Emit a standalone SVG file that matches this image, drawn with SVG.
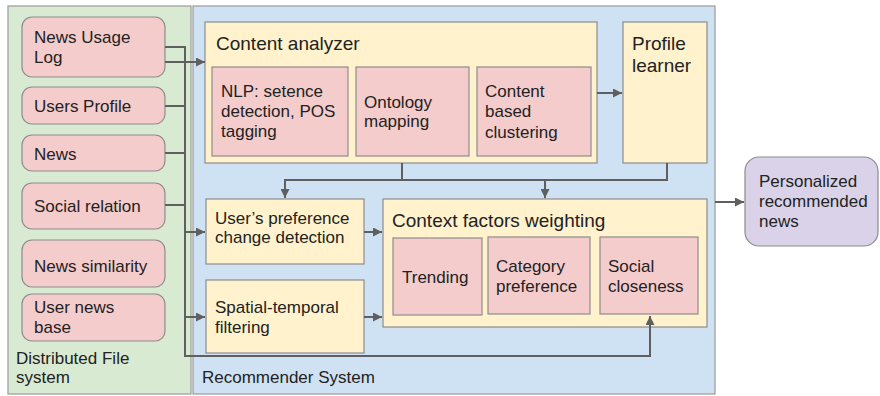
<svg xmlns="http://www.w3.org/2000/svg" width="880" height="396" viewBox="0 0 880 396">
<defs>
<style>
text{font-family:"Liberation Sans",Arial,sans-serif;fill:#222;font-size:17px}
.t{font-size:19px}
.panelG{fill:#d9ead3;stroke:#9a9a9a;stroke-width:1.2}
.panelB{fill:#cfe2f3;stroke:#9a9a9a;stroke-width:1.2}
.y{fill:#fff2cc;stroke:#8c8c8c;stroke-width:1.2}
.p{fill:#f4cccc;stroke:#8c8c8c;stroke-width:1.2}
.v{fill:#d9d2e9;stroke:#8c8c8c;stroke-width:1.2}
.c{fill:none;stroke:#5f5f5f;stroke-width:2}
</style>
<marker id="ah" viewBox="0 0 10 10" refX="10" refY="5" markerUnits="userSpaceOnUse" markerWidth="9" markerHeight="9" orient="auto">
<path d="M0,0 L10,5 L0,10 z" fill="#5f5f5f"/>
</marker>
</defs>

<g id="distributed-file-system">
<rect class="panelG" x="8" y="6" width="183" height="388"/>
<text x="16" y="364">Distributed File</text>
<text x="16" y="383">system</text>
</g>
<g id="recommender-system">
<rect class="panelB" x="193" y="6" width="522" height="388"/>
<text x="202" y="383">Recommender System</text>
</g>

<g id="news-usage-log"><rect class="p" x="22" y="17" width="143" height="60" rx="10"/><text x="34" y="43">News Usage</text><text x="34" y="63">Log</text></g>
<g id="users-profile"><rect class="p" x="22" y="87" width="143" height="37" rx="10"/><text x="34" y="112">Users Profile</text></g>
<g id="news"><rect class="p" x="22" y="135" width="143" height="36" rx="10"/><text x="34" y="160">News</text></g>
<g id="social-relation"><rect class="p" x="22" y="183" width="143" height="46" rx="10"/><text x="34" y="212">Social relation</text></g>
<g id="news-similarity"><rect class="p" x="22" y="240" width="143" height="47" rx="10"/><text x="34" y="272">News similarity</text></g>
<g id="user-news-base"><rect class="p" x="22" y="294" width="143" height="47" rx="10"/><text x="34" y="313">User news</text><text x="34" y="333">base</text></g>

<g id="content-analyzer">
<rect class="y" x="205" y="22" width="392" height="141"/>
<text class="t" x="216" y="50">Content analyzer</text>
</g>
<g id="nlp"><rect class="p" x="212" y="67" width="136" height="89"/><text x="221" y="97">NLP: setence</text><text x="221" y="117">detection, POS</text><text x="221" y="137">tagging</text></g>
<g id="ontology-mapping"><rect class="p" x="356" y="67" width="113" height="89"/><text x="364" y="108">Ontology</text><text x="364" y="127">mapping</text></g>
<g id="content-based-clustering"><rect class="p" x="477" y="67" width="114" height="89"/><text x="485" y="97">Content</text><text x="485" y="117">based</text><text x="485" y="138">clustering</text></g>

<g id="profile-learner"><rect class="y" x="623" y="22" width="84" height="141"/><text class="t" x="632" y="50">Profile</text><text class="t" x="632" y="72">learner</text></g>

<g id="preference-change"><rect class="y" x="206" y="199" width="158" height="65"/><text x="215" y="224">User’s preference</text><text x="215" y="243">change detection</text></g>
<g id="spatial-temporal"><rect class="y" x="206" y="280" width="158" height="73"/><text x="215" y="313">Spatial-temporal</text><text x="215" y="333">filtering</text></g>

<g id="context-factors">
<rect class="y" x="383" y="199" width="324" height="128"/>
<text class="t" x="392" y="227">Context factors weighting</text>
</g>
<g id="trending"><rect class="p" x="393" y="238" width="89" height="77"/><text x="402" y="283">Trending</text></g>
<g id="category-preference"><rect class="p" x="488" y="237" width="102" height="77"/><text x="496" y="272">Category</text><text x="496" y="292">preference</text></g>
<g id="social-closeness"><rect class="p" x="600" y="237" width="98" height="77"/><text x="608" y="272">Social</text><text x="608" y="292">closeness</text></g>

<g id="personalized-news"><rect class="v" x="745" y="157" width="133" height="89" rx="14"/><text x="759" y="187">Personalized</text><text x="759" y="207">recommended</text><text x="759" y="227">news</text></g>

<g id="connectors">
<path class="c" d="M165,47 H185 V356 H650 V316" marker-end="url(#ah)"/>
<path class="c" d="M165,62 H205" marker-end="url(#ah)"/>
<path class="c" d="M165,106 H185"/>
<path class="c" d="M165,153 H185"/>
<path class="c" d="M165,205 H185"/>
<path class="c" d="M185,232 H205" marker-end="url(#ah)"/>
<path class="c" d="M185,317 H205" marker-end="url(#ah)"/>
<path class="c" d="M597,93 H622" marker-end="url(#ah)"/>
<path class="c" d="M402,163 V180"/>
<path class="c" d="M667,163 V180 H285 V198" marker-end="url(#ah)"/>
<path class="c" d="M545,180 V198" marker-end="url(#ah)"/>
<path class="c" d="M364,232 H382" marker-end="url(#ah)"/>
<path class="c" d="M364,317 H382" marker-end="url(#ah)"/>
<path class="c" d="M715,202 H744" marker-end="url(#ah)"/>
</g>
</svg>
